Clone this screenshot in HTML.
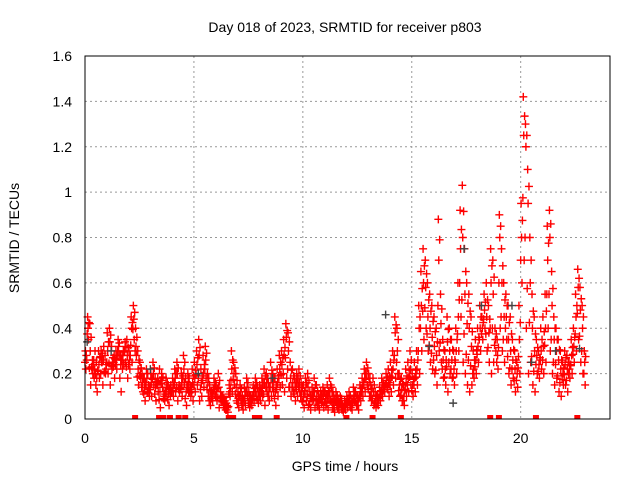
<!DOCTYPE html>
<html><head><meta charset="utf-8"><style>
body{margin:0;background:#fff}
svg{display:block;font-family:"Liberation Sans",sans-serif}
</style></head><body>
<svg id="chart" width="640" height="480">
<text x="345" y="32" font-size="14" text-anchor="middle">Day 018 of 2023, SRMTID for receiver p803</text>
<g id="grid"></g>
<g id="ticks"></g>
<g id="marks"></g>
<rect x="85" y="56" width="525" height="363" fill="none" stroke="#000" stroke-width="1"/>
<text x="345" y="471" font-size="14" text-anchor="middle">GPS time / hours</text>
<text transform="translate(19,238) rotate(-90)" font-size="14" text-anchor="middle">SRMTID / TECUs</text>
</svg>
<script>
const xTicks=[0,5,10,15,20];
const yTicks=[0,0.2,0.4,0.6,0.8,1,1.2,1.4,1.6];
const yTickLabels=["0","0.2","0.4","0.6","0.8","1","1.2","1.4","1.6"];
const seriesA=[
.30,.45,.42,.22,.18,.25,.30,.20,.15,.28,
.38,.40,.32,.25,.30,.35,.28,.22,.30,.35,
.30,.45,.50,.40,.30,.25,.20,.18,.22,.15,
.20,.25,.18,.15,.22,.20,.12,.18,.15,.10,
.18,.22,.25,.15,.20,.28,.18,.20,.15,.22,
.25,.30,.35,.22,.28,.32,.20,.15,.12,.18,
.15,.20,.12,.10,.08,.06,.15,.30,.25,.20,
.12,.15,.10,.14,.18,.12,.10,.15,.18,.14,
.15,.18,.22,.20,.16,.25,.20,.18,.22,.28,
.30,.35,.42,.38,.25,.22,.18,.20,.22,.16,
.15,.18,.20,.12,.14,.18,.15,.10,.12,.14,
.12,.15,.18,.14,.10,.12,.08,.10,.06,.08,
.10,.12,.08,.14,.12,.10,.15,.18,.22,.25,
.20,.15,.18,.12,.10,.14,.18,.15,.20,.22,
.25,.30,.45,.40,.20,.18,.15,.22,.25,.30,
.20,.25,.30,.50,.65,.75,.70,.60,.55,.50,
.45,.40,.88,.55,.35,.30,.45,.40,.35,.30,
.40,.60,.92,1.03,.75,.60,.55,.45,.30,.35,
.40,.50,.45,.55,.60,.50,.75,.70,.40,.35,
.90,.75,.60,.55,.50,.45,.35,.30,.25,.50,
.95,1.42,1.30,1.10,.80,.55,.45,.35,.30,.40,
.45,.55,.85,.92,.65,.45,.40,.35,.30,.25,
.30,.28,.25,.35,.40,.55,.66,.58,.50,.30];
const seriesB=[
.28,.35,.15,.20,.30,.12,.18,.25,.32,.22,
.20,.15,.25,.18,.22,.28,.12,.30,.25,.18,
.22,.25,.35,.28,.15,.18,.12,.08,.12,.10,
.10,.15,.08,.12,.05,.14,.08,.10,.06,.12,
.10,.12,.08,.14,.10,.16,.06,.12,.10,.08,
.12,.15,.08,.10,.14,.18,.10,.06,.08,.12,
.08,.05,.10,.06,.04,.03,.10,.12,.15,.08,
.05,.08,.04,.06,.10,.05,.06,.08,.10,.07,
.08,.10,.06,.12,.08,.10,.12,.06,.10,.14,
.15,.12,.18,.14,.10,.12,.08,.10,.12,.08,
.05,.08,.06,.04,.08,.05,.06,.04,.07,.05,
.06,.04,.08,.05,.03,.06,.04,.05,.03,.04,
.05,.06,.04,.08,.06,.04,.08,.10,.12,.15,
.10,.08,.06,.05,.06,.08,.10,.12,.14,.10,
.12,.15,.18,.20,.10,.08,.06,.10,.12,.15,
.10,.12,.15,.20,.30,.35,.40,.30,.25,.22,
.20,.15,.30,.25,.18,.15,.12,.20,.18,.15,
.20,.30,.45,.25,.20,.15,.12,.15,.18,.20,
.25,.30,.35,.40,.30,.25,.20,.25,.30,.22,
.40,.30,.25,.35,.20,.15,.18,.12,.14,.20,
.60,.70,.40,.20,.25,.15,.12,.20,.18,.22,
.20,.25,.40,.30,.20,.15,.18,.12,.10,.15,
.15,.12,.18,.20,.25,.30,.35,.25,.20,.15];
const seriesC=[
.22,.40,.30,.26,.22,.18,.24,.30,.26,.20,
.30,.34,.22,.28,.26,.32,.24,.26,.34,.28,
.26,.40,.44,.32,.22,.20,.16,.14,.18,.13,
.16,.20,.14,.18,.12,.17,.10,.14,.11,.15,
.14,.18,.20,.12,.16,.22,.12,.16,.13,.16,
.18,.24,.28,.16,.20,.26,.16,.10,.10,.14,
.12,.14,.08,.09,.06,.05,.12,.22,.20,.14,
.09,.12,.08,.10,.14,.09,.08,.12,.14,.10,
.12,.14,.16,.16,.12,.18,.16,.12,.16,.22,
.24,.28,.36,.30,.18,.16,.14,.16,.16,.12,
.10,.14,.14,.09,.10,.12,.10,.08,.10,.10,
.09,.10,.12,.10,.07,.09,.06,.08,.05,.06,
.08,.09,.06,.10,.09,.08,.12,.14,.18,.20,
.16,.12,.12,.09,.08,.11,.14,.14,.17,.16,
.18,.22,.38,.30,.15,.13,.10,.16,.18,.22,
.15,.18,.22,.40,.50,.60,.58,.45,.40,.36,
.32,.28,.70,.42,.26,.22,.34,.30,.26,.22,
.30,.45,.75,.80,.55,.42,.40,.32,.22,.26,
.32,.40,.40,.48,.45,.38,.60,.55,.35,.28,
.80,.60,.45,.45,.35,.30,.26,.22,.20,.35,
.80,1.25,1.20,.95,.60,.40,.30,.28,.24,.30,
.32,.40,.70,.80,.50,.35,.30,.26,.22,.20,
.24,.22,.22,.28,.32,.45,.58,.48,.40,.25];
const grayTimes=[0.1,1.2,3.0,5.2,8.6,13.8,15.8,16.9,17.4,18.2,19.6,20.5,21.6,22.7];
const grayValues=[0.34,0.3,0.22,0.2,0.18,0.46,0.32,0.07,0.75,0.5,0.5,0.25,0.3,0.31];
const zeroTimes=[2.3,3.4,3.5,3.6,3.9,4.3,4.6,6.6,6.7,6.8,7.8,8.0,8.8,12.0,13.2,14.5,18.6,19.0,20.7,22.6];
const sampleStep=0.1;

const NS="http://www.w3.org/2000/svg";
const X=t=>85+t*(525/24.1);
const Y=v=>419-v*(363/1.6);
const grid=document.getElementById('grid'),ticks=document.getElementById('ticks'),marks=document.getElementById('marks');
function mk(tag,attrs,parent){const e=document.createElementNS(NS,tag);for(const k in attrs)e.setAttribute(k,attrs[k]);parent.appendChild(e);return e;}
xTicks.forEach(t=>{
  const x=X(t);
  if(t>0){const g=mk('line',{x1:x,x2:x,y1:56,y2:419,stroke:'#999','stroke-dasharray':'2,3'},grid);
  
  }
  const l=mk('text',{x:x,y:443,'font-size':14,'text-anchor':'middle'},ticks);l.textContent=t;
  
  
});
yTicks.forEach((v,i)=>{
  const y=Y(v);
  if(v>0&&v<1.6){const g=mk('line',{x1:85,x2:610,y1:y,y2:y,stroke:'#999','stroke-dasharray':'2,3'},grid);
  
  }
  const l=mk('text',{x:72,y:y+5,'font-size':14,'text-anchor':'end'},ticks);l.textContent=yTickLabels[i];
  
  
});
function plus(t,v,color){
  const x=X(t),y=Y(v);
  const p=mk('path',{d:`M${x-4},${y}h8M${x},${y-4}v8`,stroke:color,'stroke-width':1.4,fill:'none'},marks);
  
  
}
seriesA.forEach((v,i)=>plus(i*sampleStep+0.02,v,'#f00'));
seriesB.forEach((v,i)=>plus(i*sampleStep+0.06,v,'#f00'));
seriesC.forEach((v,i)=>plus(i*sampleStep+0.04,v,'#f00'));
seriesA.forEach((v,i)=>plus(i*sampleStep+0.08,(v+seriesC[i])/2,'#f00'));
seriesB.forEach((v,i)=>plus(i*sampleStep+0.00,(v+seriesC[i])/2,'#f00'));
grayTimes.forEach((t,i)=>plus(t,grayValues[i],'#444'));
zeroTimes.forEach(t=>{
  const r=mk('rect',{x:X(t)-3,y:415,width:6,height:4,fill:'#f00'},marks);
  
  
});
</script>
</body></html>
